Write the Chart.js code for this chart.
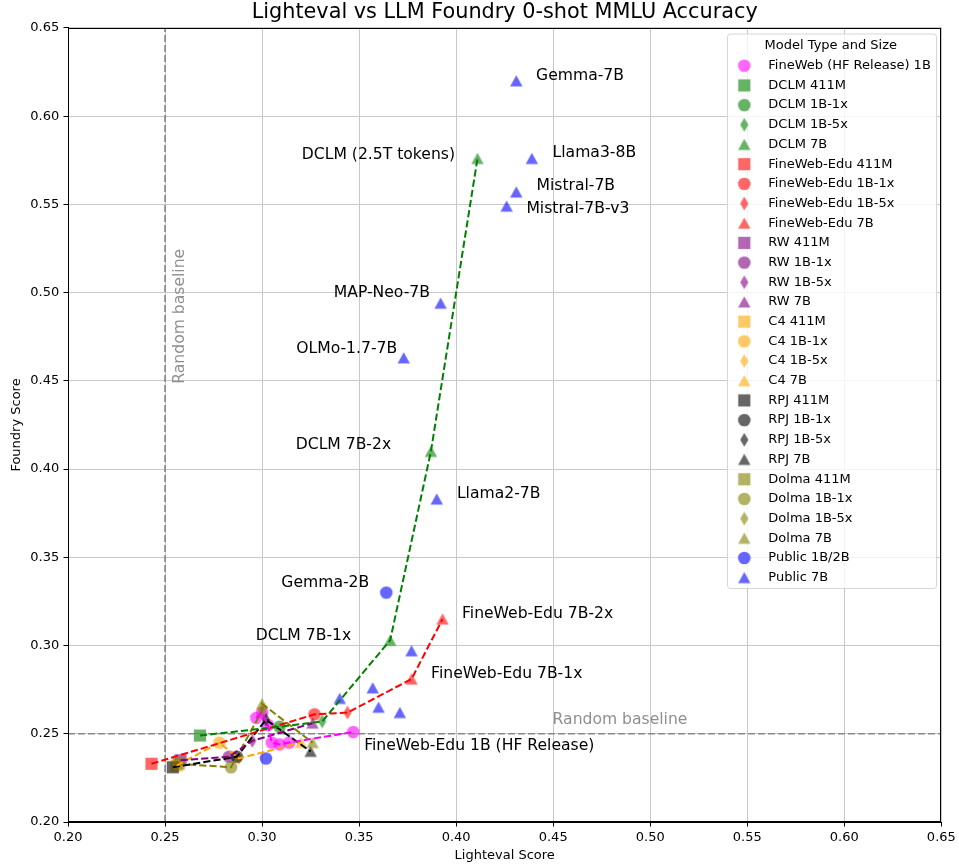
<!DOCTYPE html>
<html>
<head>
<meta charset="utf-8">
<script src="https://cdn.jsdelivr.net/npm/chart.js@4.4.1/dist/chart.umd.min.js"></script>
<style>
html,body{margin:0;padding:0;background:#fff;overflow:hidden}
#wrap{width:959px;height:867px;position:relative}
</style>
</head>
<body>
<div id="wrap"><canvas id="c"></canvas></div>
<script>
// ---------- data ----------
const xTickValues = [0.20, 0.25, 0.30, 0.35, 0.40, 0.45, 0.50, 0.55, 0.60, 0.65];
const yTickValues = [0.20, 0.25, 0.30, 0.35, 0.40, 0.45, 0.50, 0.55, 0.60, 0.65];
const randomBaseline = 0.25;

const finewebHF1B = [[0.297, 0.259], [0.300, 0.262], [0.303, 0.255], [0.305, 0.245], [0.309, 0.244], [0.314, 0.245], [0.347, 0.251]];
const dclm411M   = [[0.268, 0.249]];
const dclm1B1x   = [[0.309, 0.254]];
const dclm1B5x   = [[0.331, 0.257]];
const dclm7B     = [[0.366, 0.303], [0.387, 0.410], [0.411, 0.576]];
const fwEdu411M  = [[0.243, 0.233]];
const fwEdu1B1x  = [[0.327, 0.261]];
const fwEdu1B5x  = [[0.344, 0.262]];
const fwEdu7B    = [[0.377, 0.281], [0.393, 0.315]];
const rw411M     = [[0.258, 0.235]];
const rw1B1x     = [[0.283, 0.237]];
const rw1B5x     = [[0.295, 0.246]];
const rw7B       = [[0.326, 0.256]];
const c4411M     = [[0.256, 0.232]];
const c41B1x     = [[0.278, 0.245]];
const c41B5x     = [[0.288, 0.236]];
const c47B       = [[0.320, 0.245]];
const rpj411M    = [[0.254, 0.231]];
const rpj1B1x    = [[0.287, 0.237]];
const rpj1B5x    = [[0.302, 0.258]];
const rpj7B      = [[0.325, 0.240]];
const dolma411M  = [[0.257, 0.233]];
const dolma1B1x  = [[0.284, 0.231]];
const dolma1B5x  = [[0.300, 0.263]];
const dolma7B    = [[0.300, 0.267], [0.326, 0.245]];
const public1B2B = [[0.364, 0.330], [0.302, 0.236]];
const public7B   = [[0.431, 0.620], [0.439, 0.576], [0.431, 0.557], [0.426, 0.549], [0.392, 0.494], [0.373, 0.463],
                    [0.390, 0.383], [0.377, 0.297], [0.340, 0.270], [0.357, 0.276], [0.360, 0.265], [0.371, 0.262]];

// annotation texts and their anchor (data coordinates)
const annotationTexts = ['Gemma-7B', 'Llama3-8B', 'Mistral-7B', 'Mistral-7B-v3', 'DCLM (2.5T tokens)', 'MAP-Neo-7B',
  'OLMo-1.7-7B', 'DCLM 7B-2x', 'Llama2-7B', 'Gemma-2B', 'FineWeb-Edu 7B-2x', 'DCLM 7B-1x', 'FineWeb-Edu 7B-1x',
  'FineWeb-Edu 1B (HF Release)'];
const annotationX = [0.4412, 0.4497, 0.4414, 0.4362, 0.3994, 0.3865, 0.3696, 0.3665, 0.4004, 0.3552, 0.4030, 0.3459, 0.3871, 0.3526];
const annotationY = [0.6229, 0.5794, 0.5605, 0.5473, 0.5781, 0.4999, 0.4681, 0.4137, 0.3859, 0.3355, 0.3179, 0.3054, 0.2839, 0.2431];
const annotationSide = ['left', 'left', 'left', 'left', 'right', 'right', 'right', 'right', 'left', 'right', 'left', 'right', 'left', 'left'];
const baselineText = 'Random baseline';

// ---------- styles ----------
const RGB = {
  magenta: '255,0,255', green: '0,128,0', red: '255,0,0', purple: '128,0,128',
  orange: '255,165,0', black: '0,0,0', olive: '128,128,0', blue: '0,0,255'
};
const FONT = 'DejaVu Sans';

function makeMarker(shape, rgb) {
  const S = 18, m = S / 2;
  const c = document.createElement('canvas');
  c.width = S; c.height = S;
  const g = c.getContext('2d');
  g.fillStyle = 'rgba(' + rgb + ',0.6)';
  g.beginPath();
  if (shape === 'circle') {
    g.arc(m, m, 6.3, 0, Math.PI * 2);
  } else if (shape === 'square') {
    g.rect(m - 6.1, m - 6.1, 12.2, 12.2);
  } else if (shape === 'diamond') {
    g.moveTo(m, m - 6.9); g.lineTo(m + 4.1, m); g.lineTo(m, m + 6.9); g.lineTo(m - 4.1, m); g.closePath();
  } else {
    g.moveTo(m, m - 5.8); g.lineTo(m + 6.2, m + 5.4); g.lineTo(m - 6.2, m + 5.4); g.closePath();
  }
  g.fill();
  return c;
}

const series = [
  ['FineWeb (HF Release) 1B', finewebHF1B, 'magenta', 'circle'],
  ['DCLM 411M', dclm411M, 'green', 'square'],
  ['DCLM 1B-1x', dclm1B1x, 'green', 'circle'],
  ['DCLM 1B-5x', dclm1B5x, 'green', 'diamond'],
  ['DCLM 7B', dclm7B, 'green', 'triangle'],
  ['FineWeb-Edu 411M', fwEdu411M, 'red', 'square'],
  ['FineWeb-Edu 1B-1x', fwEdu1B1x, 'red', 'circle'],
  ['FineWeb-Edu 1B-5x', fwEdu1B5x, 'red', 'diamond'],
  ['FineWeb-Edu 7B', fwEdu7B, 'red', 'triangle'],
  ['RW 411M', rw411M, 'purple', 'square'],
  ['RW 1B-1x', rw1B1x, 'purple', 'circle'],
  ['RW 1B-5x', rw1B5x, 'purple', 'diamond'],
  ['RW 7B', rw7B, 'purple', 'triangle'],
  ['C4 411M', c4411M, 'orange', 'square'],
  ['C4 1B-1x', c41B1x, 'orange', 'circle'],
  ['C4 1B-5x', c41B5x, 'orange', 'diamond'],
  ['C4 7B', c47B, 'orange', 'triangle'],
  ['RPJ 411M', rpj411M, 'black', 'square'],
  ['RPJ 1B-1x', rpj1B1x, 'black', 'circle'],
  ['RPJ 1B-5x', rpj1B5x, 'black', 'diamond'],
  ['RPJ 7B', rpj7B, 'black', 'triangle'],
  ['Dolma 411M', dolma411M, 'olive', 'square'],
  ['Dolma 1B-1x', dolma1B1x, 'olive', 'circle'],
  ['Dolma 1B-5x', dolma1B5x, 'olive', 'diamond'],
  ['Dolma 7B', dolma7B, 'olive', 'triangle'],
  ['Public 1B/2B', public1B2B, 'blue', 'circle'],
  ['Public 7B', public7B, 'blue', 'triangle']
];

const families = [
  ['magenta', [finewebHF1B]],
  ['green', [dclm411M, dclm1B1x, dclm1B5x, dclm7B]],
  ['red', [fwEdu411M, fwEdu1B1x, fwEdu1B5x, fwEdu7B]],
  ['purple', [rw411M, rw1B1x, rw1B5x, rw7B]],
  ['orange', [c4411M, c41B1x, c41B5x, c47B]],
  ['black', [rpj411M, rpj1B1x, rpj1B5x, rpj7B]],
  ['olive', [dolma411M, dolma1B1x, dolma1B5x, dolma7B]]
];

const toPts = arr => arr.map(p => ({x: p[0], y: p[1]}));
const datasets = [];
const N = series.length;

series.forEach((s, i) => {
  const img = makeMarker(s[3], RGB[s[2]]);
  datasets.push({
    label: s[0], data: toPts(s[1]), showLine: false,
    pointStyle: img, pointRadius: 6, pointHoverRadius: 6,
    backgroundColor: 'rgba(' + RGB[s[2]] + ',0.6)', borderColor: 'rgba(0,0,0,0)',
    order: 100 + (N - i), _legend: true, _marker: img
  });
});
families.forEach(f => {
  const pts = [];
  f[1].forEach(part => part.forEach(p => pts.push(p)));
  datasets.push({
    label: '_line_' + f[0], data: toPts(pts), showLine: true, pointRadius: 0,
    borderColor: 'rgb(' + RGB[f[0]] + ')', borderWidth: 2, borderDash: [7.2, 3.1],
    tension: 0, fill: false, order: 1, _legend: false
  });
});
// random baseline reference lines
datasets.push({
  label: '_hbase', data: [{x: xTickValues[0], y: randomBaseline}, {x: xTickValues[xTickValues.length - 1], y: randomBaseline}],
  showLine: true, pointRadius: 0, borderColor: 'rgba(128,128,128,0.9)', borderWidth: 1.7, borderDash: [7, 3],
  fill: false, order: 2, _legend: false
});
datasets.push({
  label: '_vbase', data: [{x: randomBaseline, y: yTickValues[0]}, {x: randomBaseline, y: yTickValues[yTickValues.length - 1]}],
  showLine: true, pointRadius: 0, borderColor: 'rgba(128,128,128,0.9)', borderWidth: 1.7, borderDash: [7, 3],
  fill: false, order: 2, _legend: false
});

// ---------- plugins ----------
const framePlugin = {
  id: 'frame',
  afterDatasetsDraw(chart) {
    const {ctx, chartArea: a} = chart;
    ctx.save();
    ctx.strokeStyle = '#000';
    ctx.lineWidth = 1;
    ctx.strokeRect(Math.round(a.left) + 0.5, Math.round(a.top) + 0.5, Math.round(a.right - a.left) - 1, Math.round(a.bottom - a.top) - 1);
    ctx.restore();
  }
};

const annotationPlugin = {
  id: 'annot',
  afterDatasetsDraw(chart) {
    const {ctx, scales: {x, y}} = chart;
    ctx.save();
    ctx.font = '15.6px "' + FONT + '"';
    ctx.textBaseline = 'middle';
    ctx.fillStyle = '#000';
    annotationTexts.forEach((t, i) => {
      ctx.textAlign = annotationSide[i];
      ctx.fillText(t, x.getPixelForValue(annotationX[i]), y.getPixelForValue(annotationY[i]));
    });
    ctx.fillStyle = '#8f8f8f';
    ctx.textAlign = 'left';
    ctx.fillText(baselineText, x.getPixelForValue(0.4497), y.getPixelForValue(0.2578));
    ctx.save();
    ctx.translate(x.getPixelForValue(0.2576), y.getPixelForValue(0.4866));
    ctx.rotate(-Math.PI / 2);
    ctx.textAlign = 'center';
    ctx.fillText(baselineText, 0, 0);
    ctx.restore();
    ctx.restore();
  }
};

const legendPlugin = {
  id: 'boxLegend',
  afterDraw(chart) {
    const {ctx} = chart;
    const items = chart.data.datasets.filter(d => d._legend);
    const L = 727.5, T = 34, W = 209, H = 554.5;
    ctx.save();
    ctx.beginPath();
    if (ctx.roundRect) ctx.roundRect(L, T, W, H, 3); else ctx.rect(L, T, W, H);
    ctx.fillStyle = 'rgba(255,255,255,0.8)';
    ctx.fill();
    ctx.strokeStyle = 'rgba(204,204,204,0.8)';
    ctx.lineWidth = 1;
    ctx.stroke();
    ctx.font = '13px "' + FONT + '"';
    ctx.fillStyle = '#000';
    ctx.textBaseline = 'middle';
    ctx.textAlign = 'center';
    ctx.fillText('Model Type and Size', 830.8, 45.5);
    ctx.textAlign = 'left';
    items.forEach((d, i) => {
      const cy = 65.7 + i * 19.69;
      const img = d._marker;
      ctx.drawImage(img, 744.3 - img.width / 2, cy - img.height / 2);
      ctx.fillText(d.label, 768.3, cy);
    });
    ctx.restore();
  }
};

const tickFont = {family: FONT, size: 13};

new Chart(document.getElementById('c'), {
  type: 'scatter',
  data: {datasets},
  options: {
    responsive: true,
    maintainAspectRatio: false,
    animation: false,
    events: [],
    layout: {padding: {left: 0, right: 16, top: 0, bottom: 0}},
    plugins: {
      legend: {display: false},
      tooltip: {enabled: false},
      title: {
        display: true, text: 'Lighteval vs LLM Foundry 0-shot MMLU Accuracy', fullSize: false,
        font: {family: FONT, size: 20.8, weight: 'normal'}, color: '#000',
        padding: {top: 0.5, bottom: 2.5}
      }
    },
    scales: {
      x: {
        type: 'linear', position: 'bottom', min: xTickValues[0], max: xTickValues[xTickValues.length - 1],
        afterBuildTicks: s => { s.ticks = xTickValues.map(v => ({value: v})); },
        afterFit: s => { s.height = 45; },
        ticks: {callback: v => Number(v).toFixed(2), font: tickFont, color: '#000', padding: 3.2, maxRotation: 0, autoSkip: false},
        grid: {color: '#c8c8c8', lineWidth: 1, tickColor: '#000', tickLength: 4.5, tickWidth: 1},
        border: {color: '#000', width: 1},
        title: {display: true, text: 'Lighteval Score', font: tickFont, color: '#000', padding: {top: 0, bottom: 3.2}}
      },
      y: {
        type: 'linear', position: 'left', min: yTickValues[0], max: yTickValues[yTickValues.length - 1],
        afterBuildTicks: s => { s.ticks = yTickValues.map(v => ({value: v})); },
        afterFit: s => { s.width = 68; },
        ticks: {callback: v => Number(v).toFixed(2), font: tickFont, color: '#000', padding: 4.3, autoSkip: false},
        grid: {color: '#c8c8c8', lineWidth: 1, tickColor: '#000', tickLength: 4.5, tickWidth: 1},
        border: {color: '#000', width: 1},
        title: {display: true, text: 'Foundry Score', font: tickFont, color: '#000', padding: {top: 8.9, bottom: 0}}
      }
    }
  },
  plugins: [framePlugin, annotationPlugin, legendPlugin]
});
</script>
</body>
</html>
